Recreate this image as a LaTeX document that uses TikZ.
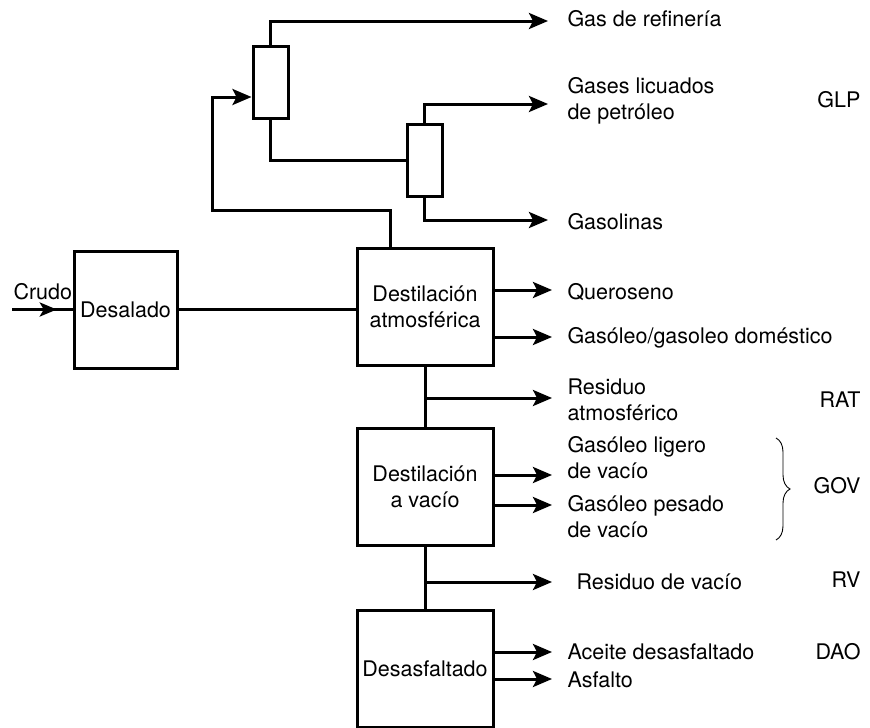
\documentclass[tikz,border=0pt]{standalone}
\usepackage{fontspec}
\setmainfont{TeX Gyre Heros}
\usepackage{tikz}
\usetikzlibrary{arrows.meta,positioning,calc,decorations.markings,decorations.pathreplacing}

\begin{document}
\begin{tikzpicture}[
    x=1pt, y=-1pt,
    font=\fontsize{21.5}{26}\selectfont,
    line width=3pt,
    unit/.style={draw, minimum width=136pt, minimum height=117pt, align=center, inner sep=2pt},
    column/.style={draw, minimum width=35pt, minimum height=72pt, inner sep=0pt},
    lbl/.style={anchor=west, align=left, inner sep=0pt},
    abbr/.style={anchor=east, inner sep=0pt},
    arr/.style={-{Stealth[length=19pt, width=16pt, inset=4pt]}},
    midarr/.style={postaction={decorate}, decoration={markings, mark=at position 0.74 with {\arrow{Stealth[length=17pt, width=14pt, inset=4pt]}}}}
]
\useasboundingbox (0,0) rectangle (870,728);

\node[unit, minimum width=103pt] (desal) at (125.5,309.5) {Desalado};
\node[unit] (atm) at (425,306.5) {Destilación\\atmosférica};
\node[unit] (vac) at (425,486.5) {Destilación\\a vacío};
\node[unit] (dsf) at (425,668.5) {Desasfaltado};
\node[column] (c1) at (270.5,82) {};
\node[column] (c2) at (424.5,160.5) {};

\node[lbl] (crudo) at (12,292) {Crudo};
\node[lbl] (gas) at (566,19) {Gas de refinería};
\node[lbl] (glp) at (566,100.5) {Gases licuados\\de petróleo};
\node[lbl] (gsl) at (566,222) {Gasolinas};
\node[lbl] (ker) at (566,292) {Queroseno};
\node[lbl] (god) at (566,338) {Gasóleo/gasoleo doméstico};
\node[lbl] (rat) at (566,400) {Residuo\\atmosférico};
\node[lbl] (glv) at (566,458) {Gasóleo ligero\\de vacío};
\node[lbl] (gpv) at (566,517) {Gasóleo pesado\\de vacío};
\node[lbl] (rv) at (575,582) {Residuo de vacío};
\node[lbl] (dao) at (566,652) {Aceite desasfaltado};
\node[lbl] (asf) at (566,680) {Asfalto};

\node[abbr] (glpab) at (862,100) {GLP};
\node[abbr] (ratab) at (862,400) {RAT};
\node[abbr] (govab) at (862,486) {GOV};
\node[abbr] (rvab) at (862,580) {RV};
\node[abbr] (daoab) at (862,652) {DAO};

\coordinate (in) at (12,309.5);
\coordinate (back) at (212,210);
\coordinate (tgas) at (548,21);
\coordinate (tglp) at (548,104);
\coordinate (tgsl) at (548,220);
\coordinate (tker) at (552,290);
\coordinate (tgod) at (552,337);
\coordinate (trat) at (552,398);
\coordinate (tglv) at (552,475);
\coordinate (tgpv) at (552,505);
\coordinate (trv) at (552,582);
\coordinate (tdao) at (552,652);
\coordinate (tasf) at (552,679);

\draw[midarr] (in) -- (desal.west);
\draw (desal.east) -- (desal.east -| atm.west);
\draw[arr] ($(atm.north west)!0.25!(atm.north east)$) |- (back) |- ($(c1.north west)!0.7!(c1.south west)$);
\draw (c1.south) |- (c2.west);
\draw[arr] (c1.north) |- (tgas);
\draw[arr] (c2.north) |- (tglp);
\draw[arr] (c2.south) |- (tgsl);
\draw[arr] (atm.east |- tker) -- (tker);
\draw[arr] (atm.east |- tgod) -- (tgod);
\draw (atm.south) -- (vac.north);
\draw[arr] (atm.south |- trat) -- (trat);
\draw[arr] (vac.east |- tglv) -- (tglv);
\draw[arr] (vac.east |- tgpv) -- (tgpv);
\draw (vac.south) -- (dsf.north);
\draw[arr] (vac.south |- trv) -- (trv);
\draw[arr] (dsf.east |- tdao) -- (tdao);
\draw[arr] (dsf.east |- tasf) -- (tasf);

\draw[line width=0.9pt, decorate, decoration={brace, amplitude=14pt}] (776,438) -- (776,540);
\end{tikzpicture}
\end{document}
